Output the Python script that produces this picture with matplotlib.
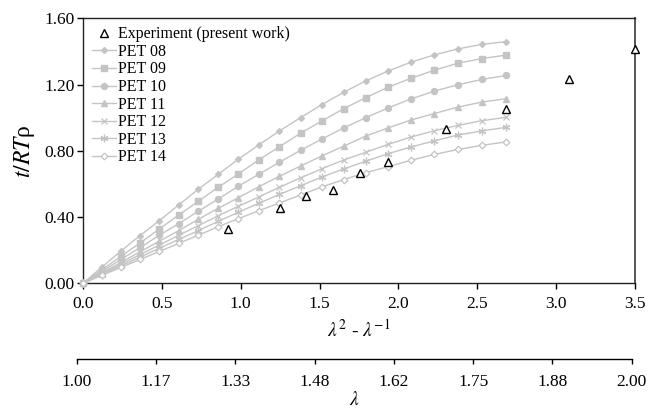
import matplotlib
matplotlib.use("Agg")
import matplotlib.pyplot as plt

plt.rcParams['font.family'] = ['Liberation Serif', 'DejaVu Serif']
plt.rcParams['mathtext.fontset'] = 'stix'

# strain measure lambda^2 - 1/lambda at lambda = 1.00 ... 1.80 (step 0.04)
strain = [0.0, 0.120, 0.2405, 0.3615, 0.4835, 0.6067, 0.7311, 0.8572, 0.9848,
          1.1143, 1.2457, 1.3792, 1.5147, 1.6525, 1.7926, 1.935, 2.0798,
          2.2272, 2.3770, 2.5294, 2.6844]

pet08 = [0, 0.098, 0.195, 0.288, 0.378, 0.473, 0.568, 0.658, 0.749, 0.835, 0.920,
         1.000, 1.079, 1.153, 1.222, 1.282, 1.335, 1.379, 1.415, 1.443, 1.459]
pet09 = [0, 0.082, 0.163, 0.243, 0.328, 0.412, 0.495, 0.580, 0.660, 0.745, 0.825,
         0.906, 0.980, 1.054, 1.121, 1.184, 1.238, 1.286, 1.329, 1.357, 1.378]
pet10 = [0, 0.072, 0.144, 0.215, 0.290, 0.360, 0.435, 0.509, 0.586, 0.658, 0.731,
         0.803, 0.871, 0.938, 1.000, 1.059, 1.113, 1.160, 1.199, 1.231, 1.255]
pet11 = [0, 0.063, 0.126, 0.190, 0.254, 0.318, 0.386, 0.453, 0.517, 0.583, 0.646,
         0.708, 0.769, 0.828, 0.889, 0.938, 0.986, 1.025, 1.064, 1.094, 1.115]
pet12 = [0, 0.057, 0.115, 0.173, 0.231, 0.290, 0.348, 0.408, 0.465, 0.521, 0.580,
         0.636, 0.692, 0.744, 0.791, 0.839, 0.883, 0.921, 0.953, 0.982, 1.002]
pet13 = [0, 0.052, 0.105, 0.158, 0.211, 0.265, 0.318, 0.374, 0.429, 0.483, 0.537,
         0.589, 0.642, 0.690, 0.737, 0.783, 0.823, 0.860, 0.895, 0.920, 0.942]
pet14 = [0, 0.048, 0.096, 0.144, 0.192, 0.241, 0.290, 0.342, 0.390, 0.438, 0.485,
         0.533, 0.582, 0.626, 0.668, 0.704, 0.743, 0.778, 0.808, 0.833, 0.854]

exp_x = [0.921, 1.246, 1.413, 1.583, 1.757, 1.935, 2.302, 2.684, 3.084, 3.5]
exp_y = [0.327, 0.457, 0.525, 0.565, 0.664, 0.734, 0.930, 1.054, 1.232, 1.413]

series_names = ['PET 08', 'PET 09', 'PET 10', 'PET 11', 'PET 12', 'PET 13', 'PET 14']
series_vals = [pet08, pet09, pet10, pet11, pet12, pet13, pet14]

x_ticks = [0.0, 0.5, 1.0, 1.5, 2.0, 2.5, 3.0, 3.5]
y_ticks = [0.0, 0.4, 0.8, 1.2, 1.6]
lambda_labels = ['1.00', '1.17', '1.33', '1.48', '1.62', '1.75', '1.88', '2.00']

gray = '#c4c4c4'
styles = [
    dict(marker='D', ms=3.0, mfc=gray, mec=gray),
    dict(marker='s', ms=4.3, mfc=gray, mec=gray),
    dict(marker='o', ms=4.3, mfc=gray, mec=gray),
    dict(marker='^', ms=4.5, mfc=gray, mec=gray),
    dict(marker='x', ms=4.5, mfc=gray, mec=gray, mew=0.9),
    dict(marker=(6, 2, 0), ms=5.5, mfc=gray, mec=gray, mew=0.9),
    dict(marker='D', ms=3.4, mfc='white', mec=gray, mew=0.9),
]

fig = plt.figure(figsize=(6.51, 4.13), dpi=100)
ax = fig.add_axes([83 / 651, 1 - 283.3 / 413, 552 / 651, 265 / 413])

ax.plot(exp_x, exp_y, linestyle='none', marker='^', ms=5.5, mfc='white', mec='black',
        mew=1, label='Experiment (present work)', clip_on=False, zorder=5)
for name, vals, st in zip(series_names, series_vals, styles):
    ax.plot(strain, vals, color=gray, lw=1, label=name, clip_on=False, zorder=3, **st)

ax.set_xlim(0, 3.5)
ax.set_ylim(0, 1.6)
ax.set_xticks(x_ticks)
ax.set_xticklabels([f'{v:.1f}' for v in x_ticks])
ax.set_yticks(y_ticks)
ax.set_yticklabels([f'{v:.2f}' for v in y_ticks])
ax.tick_params(axis='both', direction='out', length=4, width=1, labelsize=12.5, colors='black')
ax.tick_params(axis='x', pad=5)
ax.tick_params(axis='y', pad=2)
for s in ['left', 'bottom', 'top']:
    ax.spines[s].set_color('#222222')
    ax.spines[s].set_linewidth(1.0)
ax.spines['right'].set_color('#555555')
ax.spines['right'].set_linewidth(1.4)

ax.set_xlabel(r'$\lambda^2$ - $\lambda^{-1}$', fontsize=14, labelpad=5)
ax.set_ylabel(r'$t/RT$ρ', fontsize=17, labelpad=5)

leg = ax.legend(loc='upper left', bbox_to_anchor=(9 / 552, 1 - 8 / 265), frameon=False,
                fontsize=11.5, borderpad=0, borderaxespad=0, handlelength=1.5,
                handletextpad=0.15, labelspacing=0.1)

# secondary lambda axis
ax2 = fig.add_axes([76.7 / 651, 1 - 359.3 / 413, 555 / 651, 0.001])
ax2.set_xlim(0, 7)
ax2.set_ylim(0, 1)
ax2.set_xticks(range(len(lambda_labels)))
ax2.set_xticklabels(lambda_labels)
ax2.set_yticks([])
for s in ['left', 'right', 'top']:
    ax2.spines[s].set_visible(False)
ax2.spines['bottom'].set_linewidth(1.0)
ax2.patch.set_visible(False)
ax2.tick_params(axis='x', direction='out', length=3.5, width=1, labelsize=12.5, pad=7)
ax2.set_xlabel(r'$\lambda$', fontsize=14, labelpad=1)

fig.savefig('out.png', dpi=100)
